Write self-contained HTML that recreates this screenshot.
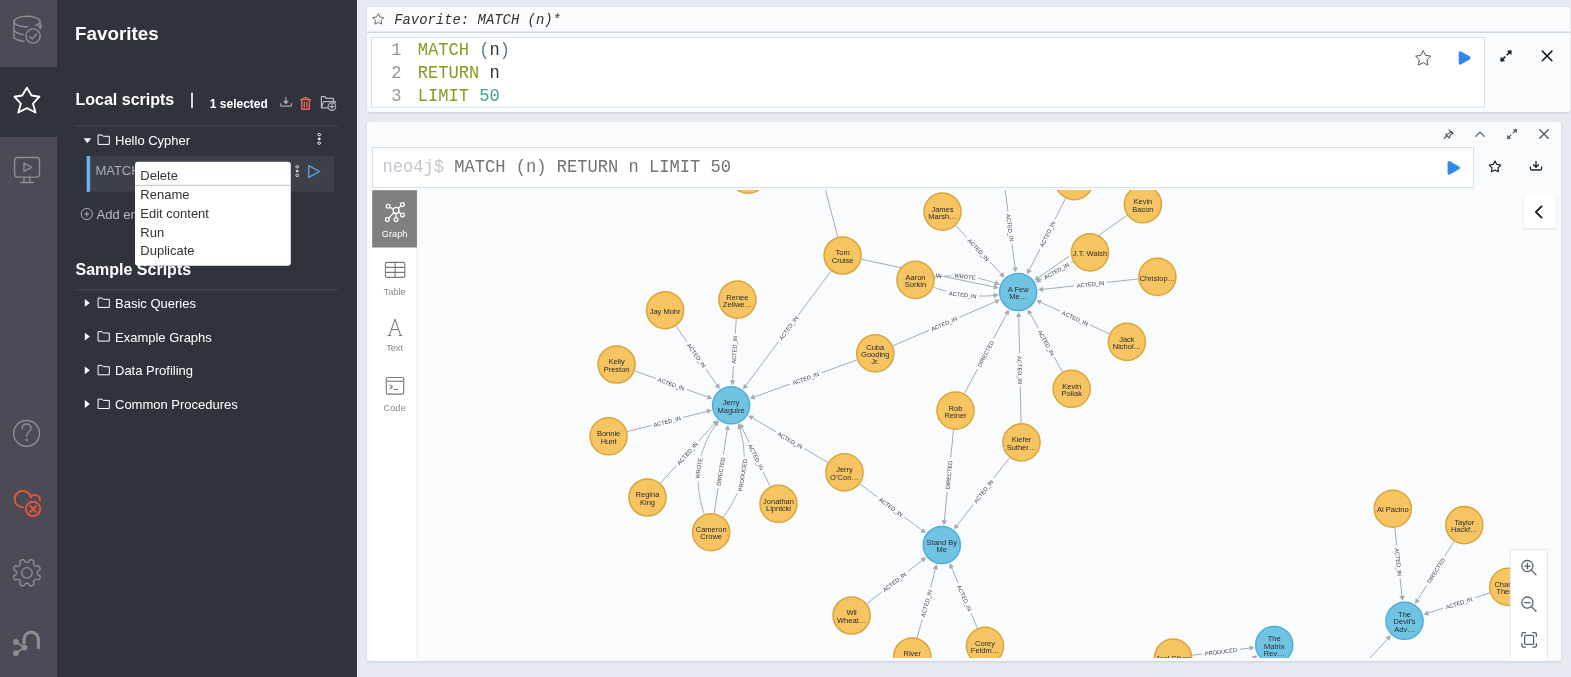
<!DOCTYPE html>
<html><head><meta charset="utf-8"><title>Neo4j Browser</title>
<style>
html,body{margin:0;padding:0;width:1571px;height:677px;overflow:hidden;background:#e5eaf1;}
svg{display:block;will-change:transform;}
</style></head>
<body>
<svg width="1571" height="677" viewBox="0 0 1571 677">
<defs>
<filter id="sh1" x="-10%" y="-10%" width="120%" height="130%"><feDropShadow dx="0" dy="1" stdDeviation="1.5" flood-color="#000" flood-opacity="0.25"/></filter>
<filter id="sh2" x="-2%" y="-5%" width="104%" height="115%"><feDropShadow dx="0" dy="1" stdDeviation="1.2" flood-color="#6b7a90" flood-opacity="0.25"/></filter>
<filter id="sh3" x="-20%" y="-20%" width="140%" height="140%"><feDropShadow dx="0" dy="1" stdDeviation="1" flood-color="#000" flood-opacity="0.12"/></filter>
<clipPath id="gclip"><rect x="417" y="190" width="1144" height="468"/></clipPath>
</defs>
<rect x="0" y="0" width="1571" height="677" fill="#e5eaf1"/>
<rect x="0" y="0" width="57" height="677" fill="#4d4a57"/>
<rect x="0" y="67" width="57" height="70" fill="#30333b"/>
<rect x="57" y="0" width="300" height="677" fill="#30333b"/>
<rect x="357" y="0" width="1.2" height="677" fill="#eef2f7"/>
<g fill="none" stroke="#8f8c8c" stroke-width="1.4" stroke-linecap="round">
<path d="M14,21.5 A13,5.2 0 0 1 40.2,21.5"/>
<path d="M14,21.5 A13,5.2 0 0 0 27.3,26.8"/>
<path d="M35.5,25.2 A13,5.2 0 0 0 40.2,21.5 L40.2,28"/>
<path d="M38.3,25.8 L40.2,28.2 L41.6,25.4"/>
<path d="M14,21.5 L14,37.8"/>
<path d="M14,30.5 Q17,33.8 23.4,34.6"/>
<path d="M14,37.8 Q17,40.6 24,41.2"/>
<circle cx="33.1" cy="36" r="7.1"/>
<path d="M29.6,36.6 L32.2,39 L36.6,34"/>
</g>
<path d="M26.9,87.7 L31.6,95.5 L39.4,96.7 L33,103.7 L35.5,112.5 L26.9,108.1 L18.3,112.5 L20.8,103.7 L14.4,96.7 L22.2,95.5Z" fill="none" stroke="#fff" stroke-width="1.9" stroke-linejoin="round"/>
<g fill="none" stroke="#8f8c8c" stroke-width="1.4" stroke-linecap="round" stroke-linejoin="round">
<rect x="14.6" y="157.5" width="24.9" height="19.6" rx="3"/>
<path d="M24,163.2 L31.6,167.3 L24,171.5 Z"/>
<path d="M24.2,177.3 L23.6,182.3 M29.5,177.3 L30.1,182.3 M20.4,182.5 L33.4,182.5"/>
</g>
<g fill="none" stroke="#8f8c8c" stroke-width="1.4" stroke-linecap="round">
<circle cx="26.6" cy="433.4" r="12.9"/>
<path d="M22.2,428.6 C22.2,422.6 31.2,422.6 31.2,428.3 C31.2,431.6 26.6,432 26.6,435.4 L26.6,436.3"/>
<circle cx="26.6" cy="440" r="0.6" fill="#8f8c8c"/>
</g>
<g fill="none" stroke="#e0573a" stroke-width="1.9" stroke-linecap="round">
<path d="M22.8,507.3 A8.2,8.2 0 1 1 30.7,496.9"/>
<path d="M30.7,497.4 A5,5 0 0 1 40,500.3"/>
<circle cx="33.1" cy="508.9" r="7.2"/>
<path d="M30.2,506 L36,511.8 M36,506 L30.2,511.8"/>
</g>
<path d="M37.40,572.80 L37.40,573.07 L37.40,573.35 L37.42,573.63 L37.47,573.91 L37.61,574.21 L37.93,574.55 L38.51,574.95 L39.22,575.42 L39.76,575.89 L40.03,576.32 L40.10,576.71 L40.07,577.08 L39.98,577.43 L39.87,577.78 L39.74,578.12 L39.59,578.45 L39.43,578.78 L39.24,579.09 L39.00,579.37 L38.67,579.60 L38.18,579.71 L37.46,579.66 L36.63,579.49 L35.94,579.37 L35.47,579.38 L35.16,579.49 L34.93,579.65 L34.72,579.84 L34.52,580.03 L34.32,580.22 L34.13,580.42 L33.94,580.62 L33.75,580.83 L33.59,581.06 L33.48,581.37 L33.47,581.84 L33.59,582.53 L33.76,583.36 L33.81,584.08 L33.70,584.57 L33.47,584.90 L33.19,585.14 L32.88,585.33 L32.55,585.49 L32.22,585.64 L31.88,585.77 L31.53,585.88 L31.18,585.97 L30.81,586.00 L30.42,585.93 L29.99,585.66 L29.52,585.12 L29.05,584.41 L28.65,583.83 L28.31,583.51 L28.01,583.37 L27.73,583.32 L27.45,583.30 L27.17,583.30 L26.90,583.30 L26.63,583.30 L26.35,583.30 L26.07,583.32 L25.79,583.37 L25.49,583.51 L25.15,583.83 L24.75,584.41 L24.28,585.12 L23.81,585.66 L23.38,585.93 L22.99,586.00 L22.62,585.97 L22.27,585.88 L21.92,585.77 L21.58,585.64 L21.25,585.49 L20.92,585.33 L20.61,585.14 L20.33,584.90 L20.10,584.57 L19.99,584.08 L20.04,583.36 L20.21,582.53 L20.33,581.84 L20.32,581.37 L20.21,581.06 L20.05,580.83 L19.86,580.62 L19.67,580.42 L19.48,580.22 L19.28,580.03 L19.08,579.84 L18.87,579.65 L18.64,579.49 L18.33,579.38 L17.86,579.37 L17.17,579.49 L16.34,579.66 L15.62,579.71 L15.13,579.60 L14.80,579.37 L14.56,579.09 L14.37,578.78 L14.21,578.45 L14.06,578.12 L13.93,577.78 L13.82,577.43 L13.73,577.08 L13.70,576.71 L13.77,576.32 L14.04,575.89 L14.58,575.42 L15.29,574.95 L15.87,574.55 L16.19,574.21 L16.33,573.91 L16.38,573.63 L16.40,573.35 L16.40,573.07 L16.40,572.80 L16.40,572.53 L16.40,572.25 L16.38,571.97 L16.33,571.69 L16.19,571.39 L15.87,571.05 L15.29,570.65 L14.58,570.18 L14.04,569.71 L13.77,569.28 L13.70,568.89 L13.73,568.52 L13.82,568.17 L13.93,567.82 L14.06,567.48 L14.21,567.15 L14.37,566.82 L14.56,566.51 L14.80,566.23 L15.13,566.00 L15.62,565.89 L16.34,565.94 L17.17,566.11 L17.86,566.23 L18.33,566.22 L18.64,566.11 L18.87,565.95 L19.08,565.76 L19.28,565.57 L19.48,565.38 L19.67,565.18 L19.86,564.98 L20.05,564.77 L20.21,564.54 L20.32,564.23 L20.33,563.76 L20.21,563.07 L20.04,562.24 L19.99,561.52 L20.10,561.03 L20.33,560.70 L20.61,560.46 L20.92,560.27 L21.25,560.11 L21.58,559.96 L21.92,559.83 L22.27,559.72 L22.62,559.63 L22.99,559.60 L23.38,559.67 L23.81,559.94 L24.28,560.48 L24.75,561.19 L25.15,561.77 L25.49,562.09 L25.79,562.23 L26.07,562.28 L26.35,562.30 L26.63,562.30 L26.90,562.30 L27.17,562.30 L27.45,562.30 L27.73,562.28 L28.01,562.23 L28.31,562.09 L28.65,561.77 L29.05,561.19 L29.52,560.48 L29.99,559.94 L30.42,559.67 L30.81,559.60 L31.18,559.63 L31.53,559.72 L31.88,559.83 L32.22,559.96 L32.55,560.11 L32.88,560.27 L33.19,560.46 L33.47,560.70 L33.70,561.03 L33.81,561.52 L33.76,562.24 L33.59,563.07 L33.47,563.76 L33.48,564.23 L33.59,564.54 L33.75,564.77 L33.94,564.98 L34.13,565.18 L34.32,565.38 L34.52,565.57 L34.72,565.76 L34.93,565.95 L35.16,566.11 L35.47,566.22 L35.94,566.23 L36.63,566.11 L37.46,565.94 L38.18,565.89 L38.67,566.00 L39.00,566.23 L39.24,566.51 L39.43,566.82 L39.59,567.15 L39.74,567.48 L39.87,567.82 L39.98,568.17 L40.07,568.52 L40.10,568.89 L40.03,569.28 L39.76,569.71 L39.22,570.18 L38.51,570.65 L37.93,571.05 L37.61,571.39 L37.47,571.69 L37.42,571.97 L37.40,572.25 L37.40,572.53 L37.40,572.80Z" fill="none" stroke="#8f8c8c" stroke-width="1.4" stroke-linejoin="round"/>
<circle cx="26.9" cy="572.8" r="5.2" fill="none" stroke="#8f8c8c" stroke-width="1.4"/>
<g stroke="#8f8c8c" fill="none">
<path d="M24.1,644.2 L24.1,639.3 A7.15,7.15 0 0 1 38.4,639.3 L38.4,648.8" stroke-width="3.1"/>
<path d="M16,642 L24.5,647.6 L16,653" stroke-width="1.8"/>
<circle cx="16" cy="642" r="2.9" fill="#8f8c8c" stroke="none"/>
<circle cx="24.5" cy="647.6" r="2.9" fill="#8f8c8c" stroke="none"/>
<circle cx="16" cy="653.2" r="2.9" fill="#8f8c8c" stroke="none"/>
</g>
<text x="75.1" y="40.1" font-family="'Liberation Sans', sans-serif" font-weight="bold" font-size="18.8" fill="#fff">Favorites</text>
<text x="75.5" y="104.9" font-family="'Liberation Sans', sans-serif" font-weight="bold" font-size="16" fill="#fff">Local scripts</text>
<rect x="191.2" y="92.6" width="1.6" height="15.6" fill="#fff"/>
<text x="209.8" y="108" font-family="'Liberation Sans', sans-serif" font-weight="bold" font-size="12" fill="#fff">1 selected</text>
<g fill="none" stroke="#a3a5ab" stroke-width="1.2" stroke-linecap="round" stroke-linejoin="round">
<path d="M285.9,97.6 L285.9,102"/>
<path d="M283.9,101.4 L285.9,103.6 L287.9,101.4Z" fill="#a3a5ab"/>
<path d="M280.4,103.6 L280.4,104.8 Q280.4,106.1 281.7,106.1 L290.3,106.1 Q291.6,106.1 291.6,104.8 L291.6,103.6"/>
</g>
<g fill="none" stroke="#e5695f" stroke-width="1.4" stroke-linecap="round" stroke-linejoin="round">
<path d="M300.6,99.6 L310.6,99.6"/>
<path d="M302.6,99.4 Q302.9,97.7 305.6,97.6 Q308.3,97.7 308.6,99.4"/>
<path d="M301.7,99.8 L301.9,109.3 L309.3,109.3 L309.5,99.8"/>
<path d="M304.3,102.2 L304.3,107 M306.9,102.2 L306.9,107"/>
</g>
<g fill="none" stroke="#b4b7bd" stroke-width="1.2" stroke-linecap="round" stroke-linejoin="round">
<path d="M327.6,107.9 L321.4,107.9 L321.4,96.6 L324.9,96.6 L326.4,98.4 L333.4,98.4 L333.4,101.3"/>
<path d="M321.6,107.6 L323.6,101.6 L335.6,101.6 L335,103"/>
<circle cx="331.9" cy="106.6" r="3.8" fill="#30333b"/>
<path d="M331.9,104.7 L331.9,108.5 M330,106.6 L333.8,106.6"/>
</g>
<rect x="75.5" y="125.5" width="263" height="1" fill="#45484f"/>
<path d="M83.7,138.2 L91.10000000000001,138.2 L87.4,143.2Z" fill="#fff"/>
<path d="M98.10,135.00 L102.00,135.00 L103.20,136.30 L109.30,136.30 L109.30,144.40 L98.10,144.40Z" fill="none" stroke="#fff" stroke-width="1" stroke-linejoin="round"/>
<text x="115" y="144.9" font-family="'Liberation Sans', sans-serif" font-size="13" fill="#fff">Hello Cypher</text>
<ellipse cx="319.2" cy="134.6" rx="1.45" ry="1.15" fill="none" stroke="#fff" stroke-width="0.9"/><ellipse cx="319.2" cy="138.9" rx="1.5" ry="1.4" fill="#fff" opacity="0.85"/><ellipse cx="319.2" cy="143.2" rx="1.45" ry="1.15" fill="none" stroke="#fff" stroke-width="0.9"/>
<rect x="86.7" y="156" width="247.1" height="35.8" fill="#3d4049"/>
<rect x="86.7" y="156" width="3.4" height="35.8" fill="#68b3f4"/>
<text x="95.4" y="175" font-family="'Liberation Sans', sans-serif" font-size="13" fill="#a9abb0">MATCH (n) RETURN n</text>
<rect x="290" y="160" width="44" height="28" fill="#3d4049"/>
<ellipse cx="297.2" cy="166.8" rx="1.45" ry="1.15" fill="none" stroke="#e8e8e8" stroke-width="0.9"/><ellipse cx="297.2" cy="171.10000000000002" rx="1.5" ry="1.4" fill="#e8e8e8" opacity="0.85"/><ellipse cx="297.2" cy="175.4" rx="1.45" ry="1.15" fill="none" stroke="#e8e8e8" stroke-width="0.9"/>
<path d="M308.7,165.6 L319.5,171.5 L308.7,177.4Z" fill="none" stroke="#5aa7e8" stroke-width="1.3" stroke-linejoin="round"/>
<circle cx="86.8" cy="214" r="5.6" fill="none" stroke="#b9bbc0" stroke-width="0.9"/>
<path d="M86.8,211.4 L86.8,216.6 M84.2,214 L89.4,214" stroke="#b9bbc0" stroke-width="0.9"/>
<text x="96.6" y="219" font-family="'Liberation Sans', sans-serif" font-size="13" fill="#b9bbc0">Add entry</text>
<text x="75.5" y="275" font-family="'Liberation Sans', sans-serif" font-weight="bold" font-size="16" fill="#fff">Sample Scripts</text>
<rect x="75.5" y="289.2" width="263" height="1" fill="#45484f"/>
<path d="M84.8,299.0 L89.8,302.9 L84.8,306.8Z" fill="#fff"/>
<path d="M98.10,298.00 L102.00,298.00 L103.20,299.30 L109.30,299.30 L109.30,307.40 L98.10,307.40Z" fill="none" stroke="#fff" stroke-width="1" stroke-linejoin="round"/>
<text x="115" y="308.0" font-family="'Liberation Sans', sans-serif" font-size="13" fill="#fff">Basic Queries</text>
<path d="M84.8,332.7 L89.8,336.59999999999997 L84.8,340.5Z" fill="#fff"/>
<path d="M98.10,331.70 L102.00,331.70 L103.20,333.00 L109.30,333.00 L109.30,341.10 L98.10,341.10Z" fill="none" stroke="#fff" stroke-width="1" stroke-linejoin="round"/>
<text x="115" y="341.7" font-family="'Liberation Sans', sans-serif" font-size="13" fill="#fff">Example Graphs</text>
<path d="M84.8,366.4 L89.8,370.29999999999995 L84.8,374.2Z" fill="#fff"/>
<path d="M98.10,365.40 L102.00,365.40 L103.20,366.70 L109.30,366.70 L109.30,374.80 L98.10,374.80Z" fill="none" stroke="#fff" stroke-width="1" stroke-linejoin="round"/>
<text x="115" y="375.4" font-family="'Liberation Sans', sans-serif" font-size="13" fill="#fff">Data Profiling</text>
<path d="M84.8,400.1 L89.8,404.0 L84.8,407.90000000000003Z" fill="#fff"/>
<path d="M98.10,399.10 L102.00,399.10 L103.20,400.40 L109.30,400.40 L109.30,408.50 L98.10,408.50Z" fill="none" stroke="#fff" stroke-width="1" stroke-linejoin="round"/>
<text x="115" y="409.1" font-family="'Liberation Sans', sans-serif" font-size="13" fill="#fff">Common Procedures</text>
<rect x="135" y="161.8" width="155.8" height="103.9" rx="3" fill="#fff"/>
<rect x="135" y="184.8" width="155.8" height="1.2" fill="#c9cbd0"/>
<text x="140.3" y="180.2" font-family="'Liberation Sans', sans-serif" font-size="13" fill="#333">Delete</text>
<text x="140.3" y="199" font-family="'Liberation Sans', sans-serif" font-size="13" fill="#333">Rename</text>
<text x="140.3" y="218" font-family="'Liberation Sans', sans-serif" font-size="13" fill="#333">Edit content</text>
<text x="140.3" y="237.1" font-family="'Liberation Sans', sans-serif" font-size="13" fill="#333">Run</text>
<text x="140.3" y="255.2" font-family="'Liberation Sans', sans-serif" font-size="13" fill="#333">Duplicate</text>
<rect x="367" y="7" width="1203.5" height="105" rx="3" fill="#f9fbfd" filter="url(#sh2)"/>
<rect x="367" y="31.6" width="1203.5" height="1.2" fill="#c8ccd2"/>
<path d="M378.30,13.50 L380.06,16.97 L383.91,17.58 L381.15,20.33 L381.77,24.17 L378.30,22.40 L374.83,24.17 L375.45,20.33 L372.69,17.58 L376.54,16.97Z" fill="none" stroke="#6b6b6b" stroke-width="1" stroke-linejoin="round"/>
<text x="394.2" y="24" font-family="'Liberation Mono', monospace" font-style="italic" font-size="13.9" fill="#333">Favorite: MATCH (n)*</text>
<rect x="371.5" y="37.4" width="1113" height="69.9" fill="#fff" stroke="#d6e0ea" stroke-width="1"/>
<text transform="translate(401.5,54.9) scale(1,1.055)" text-anchor="end" font-family="'Liberation Mono', monospace" font-size="17.1" xml:space="preserve" fill="#8f9b9b">1</text>
<text transform="translate(401.5,77.6) scale(1,1.055)" text-anchor="end" font-family="'Liberation Mono', monospace" font-size="17.1" xml:space="preserve" fill="#8f9b9b">2</text>
<text transform="translate(401.5,100.7) scale(1,1.055)" text-anchor="end" font-family="'Liberation Mono', monospace" font-size="17.1" xml:space="preserve" fill="#8f9b9b">3</text>
<text transform="translate(417.8,54.9) scale(1,1.055)" text-anchor="start" font-family="'Liberation Mono', monospace" font-size="17.1" xml:space="preserve"><tspan fill="#8a9a1e">MATCH</tspan> <tspan fill="#5b7b8a">(</tspan><tspan fill="#333">n</tspan><tspan fill="#5b7b8a">)</tspan></text>
<text transform="translate(417.8,77.6) scale(1,1.055)" text-anchor="start" font-family="'Liberation Mono', monospace" font-size="17.1" xml:space="preserve"><tspan fill="#8a9a1e">RETURN</tspan> <tspan fill="#333">n</tspan></text>
<text transform="translate(417.8,100.7) scale(1,1.055)" text-anchor="start" font-family="'Liberation Mono', monospace" font-size="17.1" xml:space="preserve"><tspan fill="#8a9a1e">LIMIT</tspan> <tspan fill="#45a0a0">50</tspan></text>
<path d="M1423.20,50.60 L1425.55,55.36 L1430.81,56.13 L1427.00,59.84 L1427.90,65.07 L1423.20,62.60 L1418.50,65.07 L1419.40,59.84 L1415.59,56.13 L1420.85,55.36Z" fill="none" stroke="#555" stroke-width="1" stroke-linejoin="round"/>
<path d="M1460.20,52.70 L1469.10,57.90 L1460.20,63.10Z" fill="#2f87f0" stroke="#2f87f0" stroke-width="3" stroke-linejoin="round"/>
<g fill="#0c1a25" stroke="#0c1a25" stroke-width="1.5" stroke-linecap="butt" stroke-linejoin="round"><path d="M1509.58,52.37 L1506.70,55.25 M1502.42,59.53 L1505.30,56.65" fill="none"/><path d="M1511.30,50.65 L1507.48,50.90 L1511.05,54.47Z" stroke-width="0.6"/><path d="M1500.70,61.25 L1504.52,61.00 L1500.95,57.43Z" stroke-width="0.6"/></g>
<path d="M1542.3,51.1 L1551.8999999999999,60.699999999999996 M1551.8999999999999,51.1 L1542.3,60.699999999999996" stroke="#0c1a25" stroke-width="1.5" stroke-linecap="round"/>
<rect x="367" y="122" width="1194" height="539" rx="3" fill="#f9fbfd" filter="url(#sh2)"/>
<g fill="none" stroke="#485662" stroke-width="1.1" stroke-linecap="round" stroke-linejoin="round">
<path d="M1444.2,138.3 L1447,135.5"/>
<path d="M1445.6,134.3 L1449.3,138 L1450.2,135.4 L1452.6,133 L1451,131.4 L1448.6,133.8 Z"/>
<path d="M1449,129.9 L1453,133.9"/>
</g>
<path d="M1475.8,136.4 L1480,132.2 L1484.2,136.4" fill="none" stroke="#485662" stroke-width="1.2" stroke-linecap="round" stroke-linejoin="round"/>
<g fill="#485662" stroke="#485662" stroke-width="1.1" stroke-linecap="butt" stroke-linejoin="round"><path d="M1515.18,130.82 L1512.70,133.30 M1508.82,137.18 L1511.30,134.70" fill="none"/><path d="M1516.70,129.30 L1513.32,129.55 L1516.45,132.68Z" stroke-width="0.6"/><path d="M1507.30,138.70 L1510.68,138.45 L1507.55,135.32Z" stroke-width="0.6"/></g>
<path d="M1539.7,129.7 L1548.3,138.3 M1548.3,129.7 L1539.7,138.3" stroke="#485662" stroke-width="1.3" stroke-linecap="round"/>
<rect x="372.5" y="147.5" width="1101" height="40" fill="#fff" stroke="#d6e0ea" stroke-width="1"/>
<text transform="translate(382.5,171.8) scale(1,1.055)" text-anchor="start" font-family="'Liberation Mono', monospace" font-size="17.1" xml:space="preserve"><tspan fill="#c2c6cc">neo4j$ </tspan><tspan fill="#747474">MATCH (n) RETURN n LIMIT 50</tspan></text>
<path d="M1449.10,162.60 L1458.30,167.90 L1449.10,173.20Z" fill="#2f87f0" stroke="#2f87f0" stroke-width="3" stroke-linejoin="round"/>
<path d="M1495.00,160.90 L1496.82,164.39 L1500.71,165.05 L1497.95,167.86 L1498.53,171.75 L1495.00,170.00 L1491.47,171.75 L1492.05,167.86 L1489.29,165.05 L1493.18,164.39Z" fill="none" stroke="#0c1a25" stroke-width="1.1" stroke-linejoin="round"/>
<g fill="none" stroke="#1d2530" stroke-width="1.3" stroke-linecap="round" stroke-linejoin="round">
<path d="M1536,161.5 L1536,167 M1533.6,164.8 L1536,167.2 L1538.4,164.8"/>
<path d="M1530.4,167 L1530.4,168.6 Q1530.4,170 1531.8,170 L1540.2,170 Q1541.6,170 1541.6,168.6 L1541.6,167"/>
</g>
<g clip-path="url(#gclip)">
<path d="M634.78,370.98 L655.60,378.40 M686.82,389.52 L707.64,396.94" fill="none" stroke="#a5abb6" stroke-width="1"/>
<path d="M712.35,398.62 L706.74,399.49 L708.55,394.40Z" fill="#a5abb6"/>
<text transform="translate(671.21,383.96) rotate(19.61)" y="2.1" text-anchor="middle" font-family="'Liberation Sans', sans-serif" font-size="5.65" fill="#3a3c42">ACTED_IN</text>
<path d="M676.10,326.06 L687.06,341.84 M705.95,369.06 L716.90,384.84" fill="none" stroke="#a5abb6" stroke-width="1"/>
<path d="M719.75,388.95 L714.69,386.38 L719.12,383.30Z" fill="#a5abb6"/>
<text transform="translate(696.50,355.45) rotate(55.24)" y="2.1" text-anchor="middle" font-family="'Liberation Sans', sans-serif" font-size="5.65" fill="#3a3c42">ACTED_IN</text>
<path d="M736.25,318.87 L735.40,333.11 M733.43,366.20 L732.58,380.44" fill="none" stroke="#a5abb6" stroke-width="1"/>
<path d="M732.28,385.44 L729.89,380.28 L735.28,380.60Z" fill="#a5abb6"/>
<text transform="translate(734.42,349.65) rotate(273.41)" y="2.1" text-anchor="middle" font-family="'Liberation Sans', sans-serif" font-size="5.65" fill="#3a3c42">ACTED_IN</text>
<path d="M831.08,270.98 L798.42,314.86 M778.63,341.45 L745.97,385.33" fill="none" stroke="#a5abb6" stroke-width="1"/>
<path d="M742.98,389.34 L743.80,383.71 L748.13,386.94Z" fill="#a5abb6"/>
<text transform="translate(788.52,328.15) rotate(306.66)" y="2.1" text-anchor="middle" font-family="'Liberation Sans', sans-serif" font-size="5.65" fill="#3a3c42">ACTED_IN</text>
<path d="M857.09,359.94 L821.40,372.79 M790.22,384.01 L754.53,396.87" fill="none" stroke="#a5abb6" stroke-width="1"/>
<path d="M749.82,398.56 L753.61,394.32 L755.44,399.41Z" fill="#a5abb6"/>
<text transform="translate(805.81,378.40) rotate(340.20)" y="2.1" text-anchor="middle" font-family="'Liberation Sans', sans-serif" font-size="5.65" fill="#3a3c42">ACTED_IN</text>
<path d="M627.31,431.57 L651.07,425.55 M683.20,417.42 L706.96,411.41" fill="none" stroke="#a5abb6" stroke-width="1"/>
<path d="M711.81,410.18 L707.62,414.03 L706.30,408.79Z" fill="#a5abb6"/>
<text transform="translate(667.14,421.49) rotate(-14.20)" y="2.1" text-anchor="middle" font-family="'Liberation Sans', sans-serif" font-size="5.65" fill="#3a3c42">ACTED_IN</text>
<path d="M660.46,483.20 L676.29,465.75 M698.55,441.20 L714.37,423.75" fill="none" stroke="#a5abb6" stroke-width="1"/>
<path d="M717.73,420.04 L716.37,425.56 L712.37,421.93Z" fill="#a5abb6"/>
<text transform="translate(687.42,453.47) rotate(-47.80)" y="2.1" text-anchor="middle" font-family="'Liberation Sans', sans-serif" font-size="5.65" fill="#3a3c42">ACTED_IN</text>
<path d="M704.26,514.19 L703.70,512.49 L703.16,510.80 L702.66,509.11 L702.18,507.42 L701.73,505.74 L701.30,504.07 L700.90,502.40 L700.53,500.73 L700.19,499.07 L699.87,497.42 L699.59,495.77 L699.32,494.12 L699.09,492.48 L698.88,490.84 L698.70,489.21 L698.55,487.58 L698.42,485.96 L698.32,484.34 L698.25,482.73 L698.22,481.66 M701.26,455.70 L701.58,454.53 L702.02,453.01 L702.49,451.50 L702.98,449.99 L703.51,448.48 L704.06,446.98 L704.64,445.48 L705.24,443.99 L705.87,442.51 L706.53,441.02 L707.22,439.55 L707.93,438.07 L708.67,436.61 L709.44,435.14 L710.23,433.69 L711.05,432.23 L711.90,430.79 L712.78,429.34 L713.68,427.90 L714.61,426.47 L715.57,425.04 L716.55,423.62 L717.56,422.20 L718.60,420.78" fill="none" stroke="#a5abb6" stroke-width="1"/>
<path d="M718.60,420.78 L717.78,426.41 L713.45,423.18Z" fill="#a5abb6"/>
<text transform="translate(698.77,468.28) rotate(-81.09)" y="2.1" text-anchor="middle" font-family="'Liberation Sans', sans-serif" font-size="5.65" fill="#3a3c42">WROTE</text>
<path d="M714.19,513.13 L718.08,488.35 M723.36,454.68 L727.24,429.90" fill="none" stroke="#a5abb6" stroke-width="1"/>
<path d="M728.02,424.96 L729.91,430.32 L724.58,429.48Z" fill="#a5abb6"/>
<text transform="translate(720.72,471.52) rotate(-81.09)" y="2.1" text-anchor="middle" font-family="'Liberation Sans', sans-serif" font-size="5.65" fill="#3a3c42">DIRECTED</text>
<path d="M723.32,517.18 L724.38,515.74 L725.40,514.29 L726.40,512.83 L727.37,511.37 L728.32,509.91 L729.23,508.45 L730.12,506.98 L730.99,505.51 L731.82,504.03 L732.63,502.55 L733.41,501.07 L734.16,499.58 L734.89,498.09 L735.59,496.60 L736.26,495.10 L736.90,493.60 L737.01,493.33 M744.19,456.76 L744.19,456.45 L744.15,454.86 L744.09,453.26 L743.99,451.66 L743.87,450.05 L743.73,448.44 L743.55,446.83 L743.35,445.21 L743.13,443.59 L742.87,441.97 L742.59,440.34 L742.28,438.71 L741.94,437.08 L741.58,435.44 L741.18,433.80 L740.76,432.15 L740.32,430.50 L739.84,428.85 L739.34,427.19 L738.82,425.53 L738.26,423.87" fill="none" stroke="#a5abb6" stroke-width="1"/>
<path d="M738.26,423.87 L742.43,427.73 L737.32,429.47Z" fill="#a5abb6"/>
<text transform="translate(742.60,475.15) rotate(-81.09)" y="2.1" text-anchor="middle" font-family="'Liberation Sans', sans-serif" font-size="5.65" fill="#3a3c42">PRODUCED</text>
<path d="M770.13,486.41 L763.20,472.00 M748.83,442.14 L741.90,427.74" fill="none" stroke="#a5abb6" stroke-width="1"/>
<path d="M739.73,423.23 L744.33,426.57 L739.46,428.91Z" fill="#a5abb6"/>
<text transform="translate(756.01,457.07) rotate(64.30)" y="2.1" text-anchor="middle" font-family="'Liberation Sans', sans-serif" font-size="5.65" fill="#3a3c42">ACTED_IN</text>
<path d="M827.89,462.57 L804.47,448.71 M775.95,431.84 L752.53,417.98" fill="none" stroke="#a5abb6" stroke-width="1"/>
<path d="M748.23,415.43 L753.90,415.66 L751.15,420.30Z" fill="#a5abb6"/>
<text transform="translate(790.21,440.28) rotate(30.61)" y="2.1" text-anchor="middle" font-family="'Liberation Sans', sans-serif" font-size="5.65" fill="#3a3c42">ACTED_IN</text>
<path d="M955.73,225.65 L967.07,237.70 M989.79,261.83 L1001.13,273.87" fill="none" stroke="#a5abb6" stroke-width="1"/>
<path d="M1004.56,277.51 L999.17,275.72 L1003.10,272.02Z" fill="#a5abb6"/>
<text transform="translate(978.43,249.76) rotate(46.72)" y="2.1" text-anchor="middle" font-family="'Liberation Sans', sans-serif" font-size="5.65" fill="#3a3c42">ACTED_IN</text>
<path d="M1004.94,188.14 L1007.90,211.29 M1012.09,244.16 L1015.05,267.30" fill="none" stroke="#a5abb6" stroke-width="1"/>
<path d="M1015.68,272.26 L1012.37,267.64 L1017.73,266.96Z" fill="#a5abb6"/>
<text transform="translate(1010.00,227.72) rotate(82.73)" y="2.1" text-anchor="middle" font-family="'Liberation Sans', sans-serif" font-size="5.65" fill="#3a3c42">ACTED_IN</text>
<path d="M1065.49,198.42 L1054.94,219.31 M1039.99,248.89 L1029.43,269.78" fill="none" stroke="#a5abb6" stroke-width="1"/>
<path d="M1027.18,274.24 L1027.02,268.56 L1031.84,271.00Z" fill="#a5abb6"/>
<text transform="translate(1047.46,234.10) rotate(296.81)" y="2.1" text-anchor="middle" font-family="'Liberation Sans', sans-serif" font-size="5.65" fill="#3a3c42">ACTED_IN</text>
<path d="M1127.11,215.40 L1096.39,237.01 M1069.29,256.07 L1038.57,277.68" fill="none" stroke="#a5abb6" stroke-width="1"/>
<path d="M1034.48,280.55 L1037.01,275.47 L1040.12,279.88Z" fill="#a5abb6"/>
<text transform="translate(1082.84,246.54) rotate(324.88)" y="2.1" text-anchor="middle" font-family="'Liberation Sans', sans-serif" font-size="5.65" fill="#3a3c42">ACTED_IN</text>
<path d="M1073.10,261.72 L1071.06,262.85 M1042.04,278.85 L1040.00,279.97" fill="none" stroke="#a5abb6" stroke-width="1"/>
<path d="M1035.63,282.39 L1038.70,277.61 L1041.31,282.34Z" fill="#a5abb6"/>
<text transform="translate(1056.55,270.85) rotate(331.12)" y="2.1" text-anchor="middle" font-family="'Liberation Sans', sans-serif" font-size="5.65" fill="#3a3c42">ACTED_IN</text>
<path d="M1138.21,278.98 L1107.06,282.36 M1074.11,285.94 L1042.95,289.31" fill="none" stroke="#a5abb6" stroke-width="1"/>
<path d="M1037.98,289.85 L1042.66,286.63 L1043.25,292.00Z" fill="#a5abb6"/>
<text transform="translate(1090.58,284.15) rotate(353.81)" y="2.1" text-anchor="middle" font-family="'Liberation Sans', sans-serif" font-size="5.65" fill="#3a3c42">ACTED_IN</text>
<path d="M1109.36,333.85 L1090.15,325.03 M1060.04,311.20 L1040.83,302.39" fill="none" stroke="#a5abb6" stroke-width="1"/>
<path d="M1036.29,300.30 L1041.96,299.93 L1039.70,304.84Z" fill="#a5abb6"/>
<text transform="translate(1075.09,318.12) rotate(24.66)" y="2.1" text-anchor="middle" font-family="'Liberation Sans', sans-serif" font-size="5.65" fill="#3a3c42">ACTED_IN</text>
<path d="M1062.36,371.91 L1054.32,357.35 M1038.29,328.35 L1030.24,313.79" fill="none" stroke="#a5abb6" stroke-width="1"/>
<path d="M1027.83,309.42 L1032.61,312.49 L1027.88,315.10Z" fill="#a5abb6"/>
<text transform="translate(1046.30,342.85) rotate(61.07)" y="2.1" text-anchor="middle" font-family="'Liberation Sans', sans-serif" font-size="5.65" fill="#3a3c42">ACTED_IN</text>
<path d="M1021.08,423.10 L1020.27,386.57 M1019.55,353.43 L1018.75,316.89" fill="none" stroke="#a5abb6" stroke-width="1"/>
<path d="M1018.64,311.90 L1021.45,316.83 L1016.05,316.95Z" fill="#a5abb6"/>
<text transform="translate(1019.91,370.00) rotate(88.74)" y="2.1" text-anchor="middle" font-family="'Liberation Sans', sans-serif" font-size="5.65" fill="#3a3c42">ACTED_IN</text>
<path d="M964.52,393.54 L977.58,368.84 M993.51,338.71 L1006.56,314.01" fill="none" stroke="#a5abb6" stroke-width="1"/>
<path d="M1008.90,309.59 L1008.95,315.27 L1004.18,312.75Z" fill="#a5abb6"/>
<text transform="translate(985.54,353.78) rotate(-62.14)" y="2.1" text-anchor="middle" font-family="'Liberation Sans', sans-serif" font-size="5.65" fill="#3a3c42">DIRECTED</text>
<path d="M892.98,345.78 L928.93,330.34 M959.38,317.27 L995.32,301.83" fill="none" stroke="#a5abb6" stroke-width="1"/>
<path d="M999.92,299.85 L996.39,304.31 L994.26,299.35Z" fill="#a5abb6"/>
<text transform="translate(944.15,323.81) rotate(-23.24)" y="2.1" text-anchor="middle" font-family="'Liberation Sans', sans-serif" font-size="5.65" fill="#3a3c42">ACTED_IN</text>
<path d="M934.60,277.12 L935.73,276.98 L936.87,276.84 L938.00,276.71 L939.13,276.60 L940.26,276.49 L941.39,276.39 L942.52,276.30 L943.64,276.22 L944.76,276.15 L945.88,276.09 L947.00,276.03 L948.12,275.99 L949.23,275.96 L950.35,275.93 L951.46,275.91 L951.56,275.91 M977.63,278.26 L978.70,278.47 L979.77,278.70 L980.83,278.93 L981.89,279.17 L982.96,279.41 L984.02,279.67 L985.08,279.94 L986.13,280.21 L987.19,280.50 L988.24,280.79 L989.29,281.10 L990.34,281.41 L991.39,281.73 L992.44,282.06 L993.48,282.40 L994.52,282.75 L995.57,283.11 L996.60,283.48 L997.64,283.85 L998.68,284.24 L999.71,284.64" fill="none" stroke="#a5abb6" stroke-width="1"/>
<path d="M999.71,284.64 L994.08,285.35 L996.02,280.31Z" fill="#a5abb6"/>
<text transform="translate(964.95,276.41) rotate(6.72)" y="2.1" text-anchor="middle" font-family="'Liberation Sans', sans-serif" font-size="5.65" fill="#3a3c42">WROTE</text>
<path d="M933.43,287.04 L934.50,287.45 L935.57,287.84 L936.65,288.23 L937.72,288.60 L938.79,288.97 L939.87,289.33 L940.94,289.68 L942.01,290.02 L943.09,290.35 L944.16,290.67 L945.24,290.98 L946.30,291.28 M979.01,296.03 L979.91,296.05 L981.00,296.05 L982.09,296.05 L983.18,296.03 L984.27,296.01 L985.36,295.98 L986.46,295.94 L987.55,295.89 L988.64,295.83 L989.74,295.76 L990.83,295.68 L991.93,295.59 L993.02,295.49 L994.12,295.39 L995.22,295.27 L996.31,295.14 L997.41,295.01 L998.51,294.87" fill="none" stroke="#a5abb6" stroke-width="1"/>
<path d="M998.51,294.87 L993.91,298.21 L993.19,292.86Z" fill="#a5abb6"/>
<text transform="translate(962.79,294.78) rotate(6.72)" y="2.1" text-anchor="middle" font-family="'Liberation Sans', sans-serif" font-size="5.65" fill="#3a3c42">ACTED_IN</text>
<path d="M861.50,259.43 L911.43,269.81 M943.88,276.55 L993.82,286.93" fill="none" stroke="#a5abb6" stroke-width="1"/>
<path d="M998.72,287.95 L993.27,289.58 L994.37,284.29Z" fill="#a5abb6"/>
<text transform="translate(927.66,273.18) rotate(11.74)" y="2.1" text-anchor="middle" font-family="'Liberation Sans', sans-serif" font-size="5.65" fill="#3a3c42">ACTED_IN</text>
<path d="M859.97,483.94 L877.62,497.12 M904.19,516.94 L921.84,530.11" fill="none" stroke="#a5abb6" stroke-width="1"/>
<path d="M925.85,533.10 L920.23,532.27 L923.46,527.95Z" fill="#a5abb6"/>
<text transform="translate(890.91,507.03) rotate(36.73)" y="2.1" text-anchor="middle" font-family="'Liberation Sans', sans-serif" font-size="5.65" fill="#3a3c42">ACTED_IN</text>
<path d="M953.54,429.80 L950.66,458.06 M947.21,491.97 L944.33,520.23" fill="none" stroke="#a5abb6" stroke-width="1"/>
<path d="M943.82,525.20 L941.64,519.95 L947.01,520.50Z" fill="#a5abb6"/>
<text transform="translate(948.93,475.01) rotate(275.82)" y="2.1" text-anchor="middle" font-family="'Liberation Sans', sans-serif" font-size="5.65" fill="#3a3c42">DIRECTED</text>
<path d="M1009.66,457.64 L993.53,478.40 M973.20,504.57 L957.08,525.34" fill="none" stroke="#a5abb6" stroke-width="1"/>
<path d="M954.01,529.28 L954.94,523.68 L959.21,526.99Z" fill="#a5abb6"/>
<text transform="translate(983.37,491.49) rotate(307.84)" y="2.1" text-anchor="middle" font-family="'Liberation Sans', sans-serif" font-size="5.65" fill="#3a3c42">ACTED_IN</text>
<path d="M866.81,603.61 L881.44,592.18 M907.55,571.77 L922.18,560.33" fill="none" stroke="#a5abb6" stroke-width="1"/>
<path d="M926.12,557.25 L923.84,562.46 L920.52,558.21Z" fill="#a5abb6"/>
<text transform="translate(894.49,581.97) rotate(-38.01)" y="2.1" text-anchor="middle" font-family="'Liberation Sans', sans-serif" font-size="5.65" fill="#3a3c42">ACTED_IN</text>
<path d="M917.24,637.84 L922.10,619.48 M930.57,587.44 L935.43,569.07" fill="none" stroke="#a5abb6" stroke-width="1"/>
<path d="M936.71,564.24 L938.04,569.76 L932.82,568.38Z" fill="#a5abb6"/>
<text transform="translate(926.33,603.46) rotate(-75.18)" y="2.1" text-anchor="middle" font-family="'Liberation Sans', sans-serif" font-size="5.65" fill="#3a3c42">ACTED_IN</text>
<path d="M977.40,628.16 L971.02,613.26 M957.98,582.79 L951.60,567.89" fill="none" stroke="#a5abb6" stroke-width="1"/>
<path d="M949.63,563.29 L954.08,566.83 L949.12,568.95Z" fill="#a5abb6"/>
<text transform="translate(964.50,598.02) rotate(66.82)" y="2.1" text-anchor="middle" font-family="'Liberation Sans', sans-serif" font-size="5.65" fill="#3a3c42">ACTED_IN</text>
<path d="M837.72,236.83 L821.84,175.99 M813.47,143.93 L797.59,83.09" fill="none" stroke="#a5abb6" stroke-width="1"/>
<path d="M796.33,78.25 L800.20,82.41 L794.98,83.77Z" fill="#a5abb6"/>
<text transform="translate(817.66,159.96) rotate(75.37)" y="2.1" text-anchor="middle" font-family="'Liberation Sans', sans-serif" font-size="5.65" fill="#3a3c42">ACTED_IN</text>
<path d="M1192.25,655.21 L1202.27,653.97 M1239.52,649.33 L1249.54,648.08" fill="none" stroke="#a5abb6" stroke-width="1"/>
<path d="M1254.50,647.46 L1249.87,650.76 L1249.21,645.40Z" fill="#a5abb6"/>
<text transform="translate(1220.90,651.65) rotate(-7.10)" y="2.1" text-anchor="middle" font-family="'Liberation Sans', sans-serif" font-size="5.65" fill="#3a3c42">PRODUCED</text>
<path d="M1163.72,714.70 L1194.44,695.33 M1222.47,677.65 L1253.19,658.28" fill="none" stroke="#a5abb6" stroke-width="1"/>
<path d="M1257.42,655.62 L1254.63,660.57 L1251.75,656.00Z" fill="#a5abb6"/>
<text transform="translate(1208.46,686.49) rotate(-32.24)" y="2.1" text-anchor="middle" font-family="'Liberation Sans', sans-serif" font-size="5.65" fill="#3a3c42">ACTED_IN</text>
<path d="M1394.81,527.89 L1396.66,545.49 M1400.11,578.45 L1401.95,596.04" fill="none" stroke="#a5abb6" stroke-width="1"/>
<path d="M1402.48,601.01 L1399.27,596.32 L1404.64,595.75Z" fill="#a5abb6"/>
<text transform="translate(1398.38,561.97) rotate(84.02)" y="2.1" text-anchor="middle" font-family="'Liberation Sans', sans-serif" font-size="5.65" fill="#3a3c42">ACTED_IN</text>
<path d="M1454.08,541.47 L1444.93,556.12 M1426.88,585.03 L1417.74,599.68" fill="none" stroke="#a5abb6" stroke-width="1"/>
<path d="M1415.09,603.92 L1415.45,598.25 L1420.03,601.11Z" fill="#a5abb6"/>
<text transform="translate(1435.91,570.57) rotate(301.98)" y="2.1" text-anchor="middle" font-family="'Liberation Sans', sans-serif" font-size="5.65" fill="#3a3c42">DIRECTED</text>
<path d="M1489.86,592.90 L1474.79,597.83 M1443.29,608.13 L1428.22,613.06" fill="none" stroke="#a5abb6" stroke-width="1"/>
<path d="M1423.46,614.61 L1427.38,610.49 L1429.06,615.63Z" fill="#a5abb6"/>
<text transform="translate(1459.04,602.98) rotate(341.89)" y="2.1" text-anchor="middle" font-family="'Liberation Sans', sans-serif" font-size="5.65" fill="#3a3c42">ACTED_IN</text>
<path d="M1297.65,735.67 L1331.33,699.48 M1353.91,675.22 L1387.59,639.03" fill="none" stroke="#a5abb6" stroke-width="1"/>
<path d="M1390.99,635.37 L1389.56,640.87 L1385.61,637.19Z" fill="#a5abb6"/>
<text transform="translate(1342.62,687.35) rotate(-47.06)" y="2.1" text-anchor="middle" font-family="'Liberation Sans', sans-serif" font-size="5.65" fill="#3a3c42">ACTED_IN</text>
<circle cx="748.2" cy="174.7" r="18.55" fill="#f6c460" stroke="#d8a63a" stroke-width="1.5"/>
<circle cx="1074.2" cy="181.2" r="18.55" fill="#f6c460" stroke="#d8a63a" stroke-width="1.5"/>
<circle cx="1002.5" cy="169.0" r="18.55" fill="#f6c460" stroke="#d8a63a" stroke-width="1.5"/>
<circle cx="791.3" cy="59.0" r="18.55" fill="#71c3e2" stroke="#4eaed9" stroke-width="1.5"/>
<circle cx="942.5" cy="211.6" r="18.55" fill="#f6c460" stroke="#d8a63a" stroke-width="1.5"/>
<text x="942.5" y="211.55" text-anchor="middle" font-family="'Liberation Sans', sans-serif" font-size="7.5" fill="#2a2c34">James</text>
<text x="942.5" y="218.85" text-anchor="middle" font-family="'Liberation Sans', sans-serif" font-size="7.5" fill="#2a2c34">Marsh…</text>
<circle cx="842.6" cy="255.5" r="18.55" fill="#f6c460" stroke="#d8a63a" stroke-width="1.5"/>
<text x="842.6" y="255.45" text-anchor="middle" font-family="'Liberation Sans', sans-serif" font-size="7.5" fill="#2a2c34">Tom</text>
<text x="842.6" y="262.75" text-anchor="middle" font-family="'Liberation Sans', sans-serif" font-size="7.5" fill="#2a2c34">Cruise</text>
<circle cx="915.5" cy="279.9" r="18.55" fill="#f6c460" stroke="#d8a63a" stroke-width="1.5"/>
<text x="915.5" y="279.85" text-anchor="middle" font-family="'Liberation Sans', sans-serif" font-size="7.5" fill="#2a2c34">Aaron</text>
<text x="915.5" y="287.15" text-anchor="middle" font-family="'Liberation Sans', sans-serif" font-size="7.5" fill="#2a2c34">Sorkin</text>
<circle cx="1142.9" cy="204.3" r="18.55" fill="#f6c460" stroke="#d8a63a" stroke-width="1.5"/>
<text x="1142.9" y="204.25" text-anchor="middle" font-family="'Liberation Sans', sans-serif" font-size="7.5" fill="#2a2c34">Kevin</text>
<text x="1142.9" y="211.55" text-anchor="middle" font-family="'Liberation Sans', sans-serif" font-size="7.5" fill="#2a2c34">Bacon</text>
<circle cx="1090.0" cy="252.4" r="18.55" fill="#f6c460" stroke="#d8a63a" stroke-width="1.5"/>
<text x="1090.0" y="256.00" text-anchor="middle" font-family="'Liberation Sans', sans-serif" font-size="7.5" fill="#2a2c34">J.T. Walsh</text>
<circle cx="1157.4" cy="276.9" r="18.55" fill="#f6c460" stroke="#d8a63a" stroke-width="1.5"/>
<text x="1157.4" y="280.50" text-anchor="middle" font-family="'Liberation Sans', sans-serif" font-size="7.5" fill="#2a2c34">Christop…</text>
<circle cx="1126.9" cy="341.9" r="18.55" fill="#f6c460" stroke="#d8a63a" stroke-width="1.5"/>
<text x="1126.9" y="341.85" text-anchor="middle" font-family="'Liberation Sans', sans-serif" font-size="7.5" fill="#2a2c34">Jack</text>
<text x="1126.9" y="349.15" text-anchor="middle" font-family="'Liberation Sans', sans-serif" font-size="7.5" fill="#2a2c34">Nichol…</text>
<circle cx="1071.7" cy="388.8" r="18.55" fill="#f6c460" stroke="#d8a63a" stroke-width="1.5"/>
<text x="1071.7" y="388.75" text-anchor="middle" font-family="'Liberation Sans', sans-serif" font-size="7.5" fill="#2a2c34">Kevin</text>
<text x="1071.7" y="396.05" text-anchor="middle" font-family="'Liberation Sans', sans-serif" font-size="7.5" fill="#2a2c34">Pollak</text>
<circle cx="875.25" cy="353.4" r="18.55" fill="#f6c460" stroke="#d8a63a" stroke-width="1.5"/>
<text x="875.25" y="349.70" text-anchor="middle" font-family="'Liberation Sans', sans-serif" font-size="7.5" fill="#2a2c34">Cuba</text>
<text x="875.25" y="357.00" text-anchor="middle" font-family="'Liberation Sans', sans-serif" font-size="7.5" fill="#2a2c34">Gooding</text>
<text x="875.25" y="364.30" text-anchor="middle" font-family="'Liberation Sans', sans-serif" font-size="7.5" fill="#2a2c34">Jr.</text>
<circle cx="955.5" cy="410.6" r="18.55" fill="#f6c460" stroke="#d8a63a" stroke-width="1.5"/>
<text x="955.5" y="410.55" text-anchor="middle" font-family="'Liberation Sans', sans-serif" font-size="7.5" fill="#2a2c34">Rob</text>
<text x="955.5" y="417.85" text-anchor="middle" font-family="'Liberation Sans', sans-serif" font-size="7.5" fill="#2a2c34">Reiner</text>
<circle cx="1021.5" cy="442.4" r="18.55" fill="#f6c460" stroke="#d8a63a" stroke-width="1.5"/>
<text x="1021.5" y="442.35" text-anchor="middle" font-family="'Liberation Sans', sans-serif" font-size="7.5" fill="#2a2c34">Kiefer</text>
<text x="1021.5" y="449.65" text-anchor="middle" font-family="'Liberation Sans', sans-serif" font-size="7.5" fill="#2a2c34">Suther…</text>
<circle cx="665.1" cy="310.2" r="18.55" fill="#f6c460" stroke="#d8a63a" stroke-width="1.5"/>
<text x="665.1" y="313.80" text-anchor="middle" font-family="'Liberation Sans', sans-serif" font-size="7.5" fill="#2a2c34">Jay Mohr</text>
<circle cx="737.4" cy="299.6" r="18.55" fill="#f6c460" stroke="#d8a63a" stroke-width="1.5"/>
<text x="737.4" y="299.55" text-anchor="middle" font-family="'Liberation Sans', sans-serif" font-size="7.5" fill="#2a2c34">Renee</text>
<text x="737.4" y="306.85" text-anchor="middle" font-family="'Liberation Sans', sans-serif" font-size="7.5" fill="#2a2c34">Zellwe…</text>
<circle cx="616.6" cy="364.5" r="18.55" fill="#f6c460" stroke="#d8a63a" stroke-width="1.5"/>
<text x="616.6" y="364.45" text-anchor="middle" font-family="'Liberation Sans', sans-serif" font-size="7.5" fill="#2a2c34">Kelly</text>
<text x="616.6" y="371.75" text-anchor="middle" font-family="'Liberation Sans', sans-serif" font-size="7.5" fill="#2a2c34">Preston</text>
<circle cx="608.6" cy="436.3" r="18.55" fill="#f6c460" stroke="#d8a63a" stroke-width="1.5"/>
<text x="608.6" y="436.25" text-anchor="middle" font-family="'Liberation Sans', sans-serif" font-size="7.5" fill="#2a2c34">Bonnie</text>
<text x="608.6" y="443.55" text-anchor="middle" font-family="'Liberation Sans', sans-serif" font-size="7.5" fill="#2a2c34">Hunt</text>
<circle cx="647.5" cy="497.5" r="18.55" fill="#f6c460" stroke="#d8a63a" stroke-width="1.5"/>
<text x="647.5" y="497.45" text-anchor="middle" font-family="'Liberation Sans', sans-serif" font-size="7.5" fill="#2a2c34">Regina</text>
<text x="647.5" y="504.75" text-anchor="middle" font-family="'Liberation Sans', sans-serif" font-size="7.5" fill="#2a2c34">King</text>
<circle cx="711.2" cy="532.2" r="18.55" fill="#f6c460" stroke="#d8a63a" stroke-width="1.5"/>
<text x="711.2" y="532.15" text-anchor="middle" font-family="'Liberation Sans', sans-serif" font-size="7.5" fill="#2a2c34">Cameron</text>
<text x="711.2" y="539.45" text-anchor="middle" font-family="'Liberation Sans', sans-serif" font-size="7.5" fill="#2a2c34">Crowe</text>
<circle cx="778.5" cy="503.8" r="18.55" fill="#f6c460" stroke="#d8a63a" stroke-width="1.5"/>
<text x="778.5" y="503.75" text-anchor="middle" font-family="'Liberation Sans', sans-serif" font-size="7.5" fill="#2a2c34">Jonathan</text>
<text x="778.5" y="511.05" text-anchor="middle" font-family="'Liberation Sans', sans-serif" font-size="7.5" fill="#2a2c34">Lipnicki</text>
<circle cx="844.5" cy="472.4" r="18.55" fill="#f6c460" stroke="#d8a63a" stroke-width="1.5"/>
<text x="844.5" y="472.35" text-anchor="middle" font-family="'Liberation Sans', sans-serif" font-size="7.5" fill="#2a2c34">Jerry</text>
<text x="844.5" y="479.65" text-anchor="middle" font-family="'Liberation Sans', sans-serif" font-size="7.5" fill="#2a2c34">O’Con…</text>
<circle cx="851.6" cy="615.5" r="18.55" fill="#f6c460" stroke="#d8a63a" stroke-width="1.5"/>
<text x="851.6" y="615.45" text-anchor="middle" font-family="'Liberation Sans', sans-serif" font-size="7.5" fill="#2a2c34">Wil</text>
<text x="851.6" y="622.75" text-anchor="middle" font-family="'Liberation Sans', sans-serif" font-size="7.5" fill="#2a2c34">Wheat…</text>
<circle cx="912.3" cy="656.5" r="18.55" fill="#f6c460" stroke="#d8a63a" stroke-width="1.5"/>
<text x="912.3" y="656.45" text-anchor="middle" font-family="'Liberation Sans', sans-serif" font-size="7.5" fill="#2a2c34">River</text>
<text x="912.3" y="663.75" text-anchor="middle" font-family="'Liberation Sans', sans-serif" font-size="7.5" fill="#2a2c34">Phoenix</text>
<circle cx="985.0" cy="645.9" r="18.55" fill="#f6c460" stroke="#d8a63a" stroke-width="1.5"/>
<text x="985.0" y="645.85" text-anchor="middle" font-family="'Liberation Sans', sans-serif" font-size="7.5" fill="#2a2c34">Corey</text>
<text x="985.0" y="653.15" text-anchor="middle" font-family="'Liberation Sans', sans-serif" font-size="7.5" fill="#2a2c34">Feldm…</text>
<circle cx="1173.1" cy="657.6" r="18.55" fill="#f6c460" stroke="#d8a63a" stroke-width="1.5"/>
<text x="1173.1" y="661.20" text-anchor="middle" font-family="'Liberation Sans', sans-serif" font-size="7.5" fill="#2a2c34">Joel Silver</text>
<circle cx="1392.8" cy="508.7" r="18.55" fill="#f6c460" stroke="#d8a63a" stroke-width="1.5"/>
<text x="1392.8" y="512.30" text-anchor="middle" font-family="'Liberation Sans', sans-serif" font-size="7.5" fill="#2a2c34">Al Pacino</text>
<circle cx="1464.3" cy="525.1" r="18.55" fill="#f6c460" stroke="#d8a63a" stroke-width="1.5"/>
<text x="1464.3" y="525.05" text-anchor="middle" font-family="'Liberation Sans', sans-serif" font-size="7.5" fill="#2a2c34">Taylor</text>
<text x="1464.3" y="532.35" text-anchor="middle" font-family="'Liberation Sans', sans-serif" font-size="7.5" fill="#2a2c34">Hackf…</text>
<circle cx="1508.2" cy="586.9" r="18.55" fill="#f6c460" stroke="#d8a63a" stroke-width="1.5"/>
<text x="1508.2" y="586.85" text-anchor="middle" font-family="'Liberation Sans', sans-serif" font-size="7.5" fill="#2a2c34">Charlize</text>
<text x="1508.2" y="594.15" text-anchor="middle" font-family="'Liberation Sans', sans-serif" font-size="7.5" fill="#2a2c34">Theron</text>
<circle cx="1284.5" cy="749.8" r="18.55" fill="#f6c460" stroke="#d8a63a" stroke-width="1.5"/>
<circle cx="1147.4" cy="725.0" r="18.55" fill="#f6c460" stroke="#d8a63a" stroke-width="1.5"/>
<circle cx="731.1" cy="405.3" r="18.55" fill="#71c3e2" stroke="#4eaed9" stroke-width="1.5"/>
<text x="731.1" y="405.25" text-anchor="middle" font-family="'Liberation Sans', sans-serif" font-size="7.5" fill="#2a2c34">Jerry</text>
<text x="731.1" y="412.55" text-anchor="middle" font-family="'Liberation Sans', sans-serif" font-size="7.5" fill="#2a2c34">Maguire</text>
<circle cx="1018.2" cy="292.0" r="18.55" fill="#71c3e2" stroke="#4eaed9" stroke-width="1.5"/>
<text x="1018.2" y="291.95" text-anchor="middle" font-family="'Liberation Sans', sans-serif" font-size="7.5" fill="#2a2c34">A Few</text>
<text x="1018.2" y="299.25" text-anchor="middle" font-family="'Liberation Sans', sans-serif" font-size="7.5" fill="#2a2c34">Me…</text>
<circle cx="941.8" cy="545.0" r="18.55" fill="#71c3e2" stroke="#4eaed9" stroke-width="1.5"/>
<text x="941.8" y="544.95" text-anchor="middle" font-family="'Liberation Sans', sans-serif" font-size="7.5" fill="#2a2c34">Stand By</text>
<text x="941.8" y="552.25" text-anchor="middle" font-family="'Liberation Sans', sans-serif" font-size="7.5" fill="#2a2c34">Me</text>
<circle cx="1274.25" cy="645.0" r="18.55" fill="#71c3e2" stroke="#4eaed9" stroke-width="1.5"/>
<text x="1274.25" y="641.30" text-anchor="middle" font-family="'Liberation Sans', sans-serif" font-size="7.5" fill="#2a2c34">The</text>
<text x="1274.25" y="648.60" text-anchor="middle" font-family="'Liberation Sans', sans-serif" font-size="7.5" fill="#2a2c34">Matrix</text>
<text x="1274.25" y="655.90" text-anchor="middle" font-family="'Liberation Sans', sans-serif" font-size="7.5" fill="#2a2c34">Rev…</text>
<circle cx="1404.55" cy="620.8" r="18.55" fill="#71c3e2" stroke="#4eaed9" stroke-width="1.5"/>
<text x="1404.55" y="617.10" text-anchor="middle" font-family="'Liberation Sans', sans-serif" font-size="7.5" fill="#2a2c34">The</text>
<text x="1404.55" y="624.40" text-anchor="middle" font-family="'Liberation Sans', sans-serif" font-size="7.5" fill="#2a2c34">Devil’s</text>
<text x="1404.55" y="631.70" text-anchor="middle" font-family="'Liberation Sans', sans-serif" font-size="7.5" fill="#2a2c34">Adv…</text>
</g>
<rect x="372" y="190" width="45" height="468" fill="#fff"/>
<rect x="416.5" y="190" width="1" height="468" fill="#e4e8ee"/>
<rect x="372.2" y="190.2" width="44.7" height="57.3" fill="#808080"/>
<g fill="none" stroke="#fff" stroke-width="1.25">
<circle cx="396.1" cy="210.4" r="3.0"/>
<circle cx="388.1" cy="206.3" r="1.9"/>
<circle cx="402.5" cy="204.4" r="1.9"/>
<circle cx="402.5" cy="215.0" r="1.9"/>
<circle cx="396.1" cy="219.6" r="1.9"/>
<circle cx="387.4" cy="219.6" r="1.9"/>
<path d="M389.8,207.3 L393.4,209.1 M398.3,208.3 L401,205.8 M398.9,211.6 L400.7,214.2 M396.1,213.4 L396.1,217.7 M394,212.5 L388.8,218.2"/>
</g>
<text x="394.6" y="236.9" text-anchor="middle" font-family="'Liberation Sans', sans-serif" font-size="9.2" fill="#fff">Graph</text>
<g fill="none" stroke="#777" stroke-width="1.1">
<rect x="385.4" y="262.4" width="19.4" height="15" rx="1.5"/>
<path d="M385.4,267.4 L404.8,267.4 M385.4,272.4 L404.8,272.4 M395.1,262.4 L395.1,277.4"/>
</g>
<text x="394.6" y="294.6" text-anchor="middle" font-family="'Liberation Sans', sans-serif" font-size="9.2" fill="#888">Table</text>
<path d="M389.3,335.6 L395,319.2 L400.7,335.6 M391.4,329.6 L398.6,329.6 M387.6,335.6 L391.2,335.6 M398.8,335.6 L402.4,335.6" fill="none" stroke="#6f6f6f" stroke-width="1"/>
<text x="394.6" y="350.5" text-anchor="middle" font-family="'Liberation Sans', sans-serif" font-size="9.2" fill="#888">Text</text>
<g fill="none" stroke="#777" stroke-width="1.1">
<rect x="386.3" y="377.5" width="17.4" height="16.6" rx="1.2"/>
<path d="M386.3,381.2 L403.7,381.2"/>
<path d="M389.6,384.6 L392.4,386.8 L389.6,389"/>
<path d="M393.6,389.4 L398,389.4"/>
</g>
<text x="394.6" y="410.7" text-anchor="middle" font-family="'Liberation Sans', sans-serif" font-size="9.2" fill="#888">Code</text>
<rect x="1524" y="195.8" width="32" height="32.2" fill="#fff" filter="url(#sh3)"/>
<path d="M1541.6,206.4 L1535.9,212 L1541.6,217.6" fill="none" stroke="#222" stroke-width="1.9" stroke-linecap="round" stroke-linejoin="round"/>
<rect x="1510.3" y="549.8" width="37.1" height="108.2" fill="#fff"/>
<path d="M1510.3,658 L1510.3,549.8 L1547.4,549.8 L1547.4,658" fill="none" stroke="#e3e8ee" stroke-width="1"/>
<g fill="none" stroke="#5a616d" stroke-width="1.3" stroke-linecap="round">
<circle cx="1527.4" cy="566.1" r="5.6"/><path d="M1531.4,570.1 L1536,574.7 M1527.4,563.4 L1527.4,568.8 M1524.7,566.1 L1530.1,566.1"/>
<circle cx="1527.4" cy="602.6" r="5.6"/><path d="M1531.4,606.6 L1536,611.2 M1524.7,602.6 L1530.1,602.6"/>
<path d="M1521.85,636.25 L1521.85,633.95 Q1521.85,632.65 1523.15,632.65 L1525.45,632.65 M1536.35,636.25 L1536.35,633.95 Q1536.35,632.65 1535.05,632.65 L1532.75,632.65 M1536.35,643.55 L1536.35,645.85 Q1536.35,647.15 1535.05,647.15 L1532.75,647.15 M1521.85,643.55 L1521.85,645.85 Q1521.85,647.15 1523.15,647.15 L1525.45,647.15"/>
<rect x="1524.60" y="635.40" width="9" height="9" rx="1.2"/>
</g>
</svg>
</body></html>
